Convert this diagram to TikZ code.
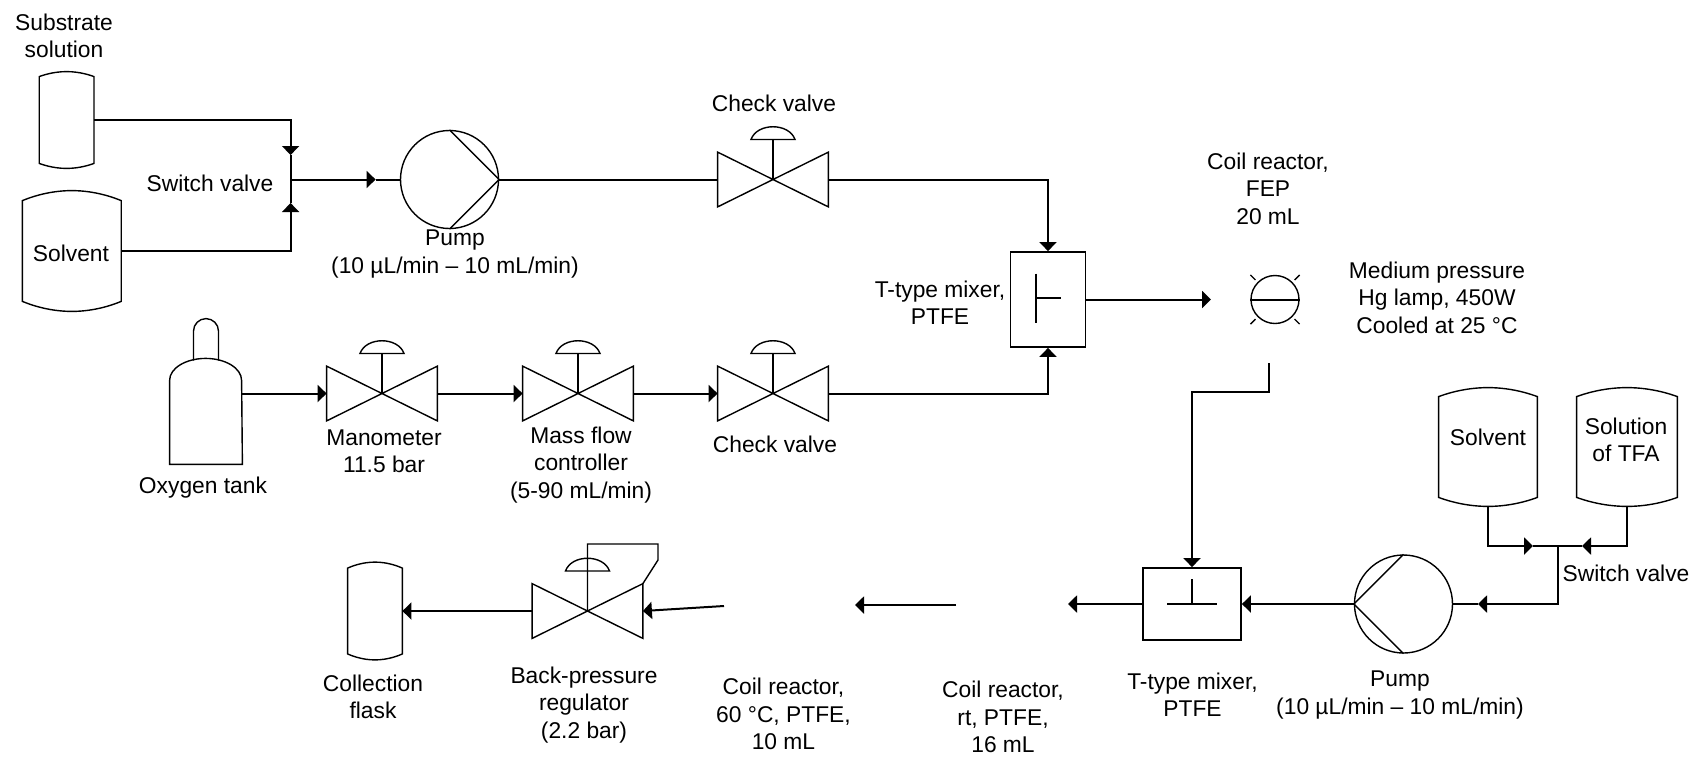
\documentclass[tikz,border=0pt]{standalone}
\usepackage{fontspec}
\setmainfont{Liberation Sans}
\usetikzlibrary{arrows.meta}

\begin{document}
\begin{tikzpicture}[
  x=0.5pt, y=-0.5pt,
  line/.style={line width=1pt},
  symb/.style={line width=0.7pt},
  arr/.style={-{Triangle[length=4.5pt,width=8.5pt]}, line width=1pt},
  lbl/.style={align=center, inner sep=0pt, font=\fontsize{11.4}{13.7}\selectfont},
  tank/.style={inner sep=0pt, append after command={\pgfextra{\let\LN\tikzlastnode
    \draw[symb] ([yshift=-#1]\LN.north west) parabola bend (\LN.north) ([yshift=-#1]\LN.north east)
      -- ([yshift=#1]\LN.south east) parabola bend (\LN.south) ([yshift=#1]\LN.south west) -- cycle;}}},
  valve/.style={inner sep=0pt, minimum width=55pt, minimum height=27pt, append after command={\pgfextra{\let\LN\tikzlastnode
    \draw[symb] (\LN.north west) -- (\LN.south east) -- (\LN.north east) -- (\LN.south west) -- cycle;
    \draw[symb] (\LN.center) -- ([yshift=20pt]\LN.center);
    \draw[symb] ([shift={(-11pt,20pt)}]\LN.center) .. controls ([shift={(-8pt,28.5pt)}]\LN.center) and ([shift={(8pt,28.5pt)}]\LN.center) .. ([shift={(11pt,20pt)}]\LN.center) -- cycle;}}},
  pump/.style={circle, draw, symb, inner sep=0pt, minimum size=49pt, append after command={\pgfextra{\let\LN\tikzlastnode
    \draw[symb] (\LN.north) -- (\LN.#1) -- (\LN.south);}}},
  mixer/.style={draw, line width=0.9pt, inner sep=0pt},
  lamp/.style={circle, draw, symb, inner sep=0pt, minimum size=24pt},
  cylinder/.style={inner sep=0pt, minimum width=36pt, minimum height=72.5pt, append after command={\pgfextra{\let\LN\tikzlastnode
    \draw[symb] (\LN.south west) -- ([yshift=42pt]\LN.south west) arc[start angle=180, end angle=0, x radius=18pt, y radius=11pt] -- (\LN.south east) -- cycle;
    \draw[symb] ([shift={(-6.25pt,-21pt)}]\LN.north) -- ([shift={(-6.25pt,-6.25pt)}]\LN.north) arc[start angle=180, end angle=0, radius=6.25pt] -- ([shift={(6.25pt,-21pt)}]\LN.north);}}}
]
\useasboundingbox (0,0) rectangle (1693,757);

% first feed line
\node[tank=2.5pt, minimum width=27pt, minimum height=48pt] at (66.6,120) (subst) {};
\node[tank=5pt, minimum width=49pt, minimum height=60pt] at (71.8,251) (solva) {};
\node[pump=east] at (449.5,179.5) (pumpa) {};
\node[valve] at (773,179.5) (chka) {};
\node[mixer, minimum width=37.5pt, minimum height=47.5pt] at (1048,299.5) (mixa) {};
\coordinate (swtop) at (290.6,155);
\coordinate (swbot) at (290.6,203);
\coordinate (swmid) at (290.6,179.5);
\coordinate (pumpain) at (375.6,179.5);

% oxygen line
\node[cylinder] at (206,391.5) (oxy) {};
\node[valve] at (382,393.5) (mano) {};
\node[valve] at (578,393.5) (mfc) {};
\node[valve] at (773,393.5) (chkb) {};

% lamp and coil
\node[lamp] at (1275,299.5) (hglamp) {};
\coordinate (lampin) at (1211,299.5);
\coordinate (lampout) at (1269,363);
\coordinate (lampdrop) at (1269,392);

% second feed line
\node[tank=4.5pt, minimum width=49pt, minimum height=59pt] at (1488,447) (solvb) {};
\node[tank=4.5pt, minimum width=50pt, minimum height=59pt] at (1627,447) (tfa) {};
\coordinate (swl) at (1533,546);
\coordinate (swr) at (1582,546);
\coordinate (swj) at (1558,546);
\coordinate (swd) at (1558,604);
\coordinate (pumpbin) at (1478,604);
\node[pump=west] at (1403.5,604) (pumpb) {};
\node[mixer, minimum width=49pt, minimum height=36pt] at (1192,604) (mixb) {};

% collection side
\coordinate (rtin) at (1068,604);
\coordinate (rtout) at (956,605);
\coordinate (hotin) at (855,605);
\coordinate (hotout) at (724,606);
\node[valve] at (587.5,611) (bpr) {};
\node[tank=3pt, minimum width=27pt, minimum height=48.5pt] at (375,611) (flask) {};
\coordinate (bpra) at (658,544);
\coordinate (bprb) at (658,560);

\draw[arr] (subst.east) -| (swtop);
\draw[arr] (solva.east) -| (swbot);
\draw[line] (swtop) -- (swbot);
\draw[arr] (swmid) -- (pumpain);
\draw[line] (pumpain) -- (pumpa.west);
\draw[line] (pumpa.east) -- (chka.west);
\draw[arr] (chka.east) -| (mixa.north);
\draw[arr] (oxy.east |- mano.west) -- (mano.west);
\draw[arr] (mano.east) -- (mfc.west);
\draw[arr] (mfc.east) -- (chkb.west);
\draw[arr] (chkb.east) -| (mixa.south);
\draw[arr] (mixa.east) -- (lampin);
\draw[arr] (lampout) -- (lampdrop) -| (mixb.north);
\draw[arr] (solvb.south) |- (swl);
\draw[arr] (tfa.south) |- (swr);
\draw[line] (swl) -- (swr);
\draw[arr] (swj) -- (swd) -- (pumpbin);
\draw[line] (pumpbin) -- (pumpb.east);
\draw[arr] (pumpb.west) -- (mixb.east);
\draw[arr] (mixb.west) -- (rtin);
\draw[arr] (rtout) -- (hotin);
\draw[arr] (hotout) -- (bpr.east);
\draw[arr] (bpr.west) -- (flask.east);
\draw[symb] (bpr.center) |- (bpra) -- (bprb) -- (bpr.north east);

% T marks in the mixers
\draw[line] ([shift={(-6pt,13pt)}]mixa.center) -- ([shift={(-6pt,-11.5pt)}]mixa.center);
\draw[line] ([shift={(-6pt,1pt)}]mixa.center) -- ([shift={(6.5pt,1pt)}]mixa.center);
\draw[line] ([xshift=-12.5pt]mixb.center) -- ([xshift=12.5pt]mixb.center);
\draw[line] (mixb.center) -- ([yshift=12.5pt]mixb.center);

% lamp bar and rays
\draw[line] (hglamp.west) -- (hglamp.east);
\draw[symb] ([shift={(45:1.5pt)}]hglamp.45) -- ([shift={(45:5pt)}]hglamp.45);
\draw[symb] ([shift={(135:1.5pt)}]hglamp.135) -- ([shift={(135:5pt)}]hglamp.135);
\draw[symb] ([shift={(225:1.5pt)}]hglamp.225) -- ([shift={(225:5pt)}]hglamp.225);
\draw[symb] ([shift={(315:1.5pt)}]hglamp.315) -- ([shift={(315:5pt)}]hglamp.315);

\node[lbl] at (64,36) (lsubst) {Substrate\\solution};
\node[lbl] at (210,183) (lswa) {Switch valve};
\node[lbl] at (71,253) (lsolva) {Solvent};
\node[lbl] at (455,254) (lpumpa) {Pump\\(10 µL/min – 10 mL/min)};
\node[lbl] at (774,103) (lchka) {Check valve};
\node[lbl] at (940,303) (lmixa) {T-type mixer,\\PTFE};
\node[lbl] at (203,488) (loxy) {Oxygen tank};
\node[lbl] at (384,451) (lmano) {Manometer\\11.5 bar};
\node[lbl] at (581,465) (lmfc) {Mass flow\\controller\\(5-90 mL/min)};
\node[lbl] at (775,444) (lchkb) {Check valve};
\node[lbl] at (1268,188.5) (lcoil) {Coil reactor,\\FEP\\20 mL};
\node[lbl] at (1437,297.5) (llamp) {Medium pressure\\Hg lamp, 450W\\Cooled at 25 °C};
\node[lbl] at (1488,437) (lsolvb) {Solvent};
\node[lbl] at (1626,440) (ltfa) {Solution\\of TFA};
\node[lbl] at (1626,573) (lswb) {Switch valve};
\node[lbl] at (1400,695) (lpumpb) {Pump\\(10 µL/min – 10 mL/min)};
\node[lbl] at (1192.5,695) (lmixb) {T-type mixer,\\PTFE};
\node[lbl] at (1003,717) (lrt) {Coil reactor,\\rt, PTFE,\\16 mL};
\node[lbl] at (783.5,714) (lhot) {Coil reactor,\\60 °C, PTFE,\\10 mL};
\node[lbl] at (584,705) (lbpr) {Back-pressure\\regulator\\(2.2 bar)};
\node[lbl] at (373,697) (lflask) {Collection\\flask};
\end{tikzpicture}
\end{document}
